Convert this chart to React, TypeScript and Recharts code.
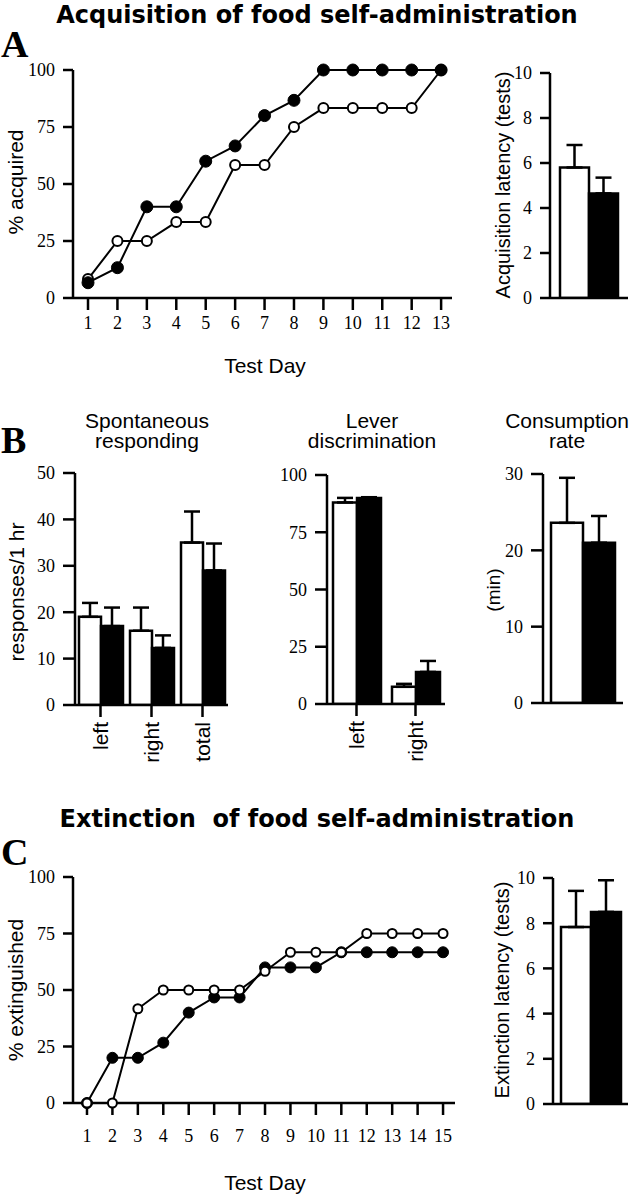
import React from 'react'
import { LineChart, Line, BarChart, Bar, XAxis, YAxis, ErrorBar, Label } from 'recharts'

const SANS = '"Liberation Sans", Arial, sans-serif'
const SERIF = '"Liberation Serif", "Times New Roman", serif'
const HEAVY = '"DejaVu Sans", sans-serif'

// A: acquisition of food self-administration
const acqDays = [1, 2, 3, 4, 5, 6, 7, 8, 9, 10, 11, 12, 13]
const acqOpen = [8.3, 25, 25, 33.3, 33.3, 58.3, 58.3, 75, 83.3, 83.3, 83.3, 83.3, 100]
const acqFilled = [6.7, 13.3, 40, 40, 60, 66.7, 80, 86.7, 100, 100, 100, 100, 100]
const acqLatency = [5.8, 4.65]
const acqLatencyErr = [1.0, 0.7]

// B: spontaneous responding / lever discrimination / consumption rate
const spontCats = ['left', 'right', 'total']
const spontWhite = [19, 16, 35]
const spontWhiteErr = [3, 5, 6.7]
const spontBlack = [17, 12.3, 29]
const spontBlackErr = [4, 2.7, 5.8]

const leverCats = ['left', 'right']
const leverWhite = [88, 7.5]
const leverWhiteErr = [2, 1.3]
const leverBlack = [90, 14]
const leverBlackErr = [0.3, 4.8]

const consWhite = [23.6]
const consWhiteErr = [5.9]
const consBlack = [21]
const consBlackErr = [3.5]

// C: extinction of food self-administration
const extDays = [1, 2, 3, 4, 5, 6, 7, 8, 9, 10, 11, 12, 13, 14, 15]
const extFilled = [0, 20, 20, 26.7, 40, 46.7, 46.7, 60, 60, 60, 66.7, 66.7, 66.7, 66.7, 66.7]
const extOpen = [0, 0, 41.7, 50, 50, 50, 50, 58.3, 66.7, 66.7, 66.7, 75, 75, 75, 75]
const extLatency = [7.83, 8.5]
const extLatencyErr = [1.6, 1.4]

const acqData = acqDays.map((d, i) => ({ day: d, open: acqOpen[i], filled: acqFilled[i] }))
const extData = extDays.map((d, i) => ({ day: d, open: extOpen[i], filled: extFilled[i] }))
const acqBar = [{ name: '', white: acqLatency[0], black: acqLatency[1], we: [0, acqLatencyErr[0]], be: [0, acqLatencyErr[1]] }]
const extBar = [{ name: '', white: extLatency[0], black: extLatency[1], we: [0, extLatencyErr[0]], be: [0, extLatencyErr[1]] }]
const spontData = spontCats.map((c, i) => ({
  name: c, white: spontWhite[i], black: spontBlack[i], we: [0, spontWhiteErr[i]], be: [0, spontBlackErr[i]],
}))
const leverData = leverCats.map((c, i) => ({
  name: c, white: leverWhite[i], black: leverBlack[i], we: [0, leverWhiteErr[i]], be: [0, leverBlackErr[i]],
}))
const consData = [{ name: '', white: consWhite[0], black: consBlack[0], we: [0, consWhiteErr[0]], be: [0, consBlackErr[0]] }]

const axisLine = { stroke: '#000', strokeWidth: 2.5 }
const serifTick = { fill: '#000', fontSize: 18, fontFamily: SERIF }

function vLabel(text: string, x: number, y: number, size: number) {
  return (
    <Label
      content={() => (
        <text x={x} y={y} transform={`rotate(-90 ${x} ${y})`} textAnchor="middle" dominantBaseline="central"
          fontFamily={SANS} fontSize={size} fill="#000">
          {text}
        </text>
      )}
    />
  )
}

const RotTick = (props: any) => {
  const { x, y, payload } = props
  return (
    <text x={x} y={y} transform={`rotate(-90 ${x} ${y})`} textAnchor="end" dominantBaseline="central"
      fontFamily={SANS} fontSize={21} fill="#000">
      {payload.value}
    </text>
  )
}

// centred text placed by the baseline of its first line
function Txt({ text, cx, base, size, font = SANS, weight = 400, lh = size }: any) {
  return (
    <div style={{
      position: 'absolute', left: cx - 300, width: 600, top: base - 0.85 * size - (lh - size) / 2, textAlign: 'center',
      fontSize: size, lineHeight: `${lh}px`, fontFamily: font, fontWeight: weight, whiteSpace: 'pre', color: '#000',
    }}>{text}</div>
  )
}

function Letter({ ch, base }: { ch: string; base: number }) {
  return (
    <div style={{
      position: 'absolute', left: 1, top: base - 0.84 * 38, fontSize: 38, lineHeight: '38px',
      fontFamily: SERIF, fontWeight: 700, color: '#000',
    }}>{ch}</div>
  )
}

function Box({ left, top, children }: any) {
  return <div style={{ position: 'absolute', left, top }}>{children}</div>
}

function bars(size: number) {
  return [
    <Bar key="w" dataKey="white" fill="#fff" stroke="#000" strokeWidth={2.5} barSize={size} isAnimationActive={false}>
      <ErrorBar dataKey="we" width={8} stroke="#000" strokeWidth={2.5} direction="y" />
    </Bar>,
    <Bar key="b" dataKey="black" fill="#000" stroke="#000" strokeWidth={2.5} barSize={size} isAnimationActive={false}>
      <ErrorBar dataKey="be" width={8} stroke="#000" strokeWidth={2.5} direction="y" />
    </Bar>,
  ]
}

export default function App() {
  return (
    <div style={{ position: 'absolute', left: 0, top: 0, width: 634, height: 1199, background: '#fff', overflow: 'hidden' }}>
      <Txt text="Acquisition of food self-administration" cx={317} base={23} size={24} font={HEAVY} weight={700} />
      <Letter ch="A" base={57} />

      <Box left={0} top={40}>
        <LineChart width={470} height={300} data={acqData} margin={{ top: 30, right: 18, left: 0, bottom: 12 }}>
          <XAxis dataKey="day" type="number" domain={[0.49, 13.37]} ticks={acqDays} interval={0} allowDataOverflow
            height={30} tickSize={12} tickMargin={6} axisLine={axisLine} tickLine={axisLine} tick={serifTick} />
          <YAxis type="number" domain={[0, 100]} ticks={[0, 25, 50, 75, 100]} width={73} interval={0}
            tickSize={10} tickMargin={8} axisLine={axisLine} tickLine={axisLine} tick={serifTick}>
            {vLabel('% acquired', 15, 142, 21)}
          </YAxis>
          <Line dataKey="open" stroke="#000" strokeWidth={2} isAnimationActive={false} activeDot={false}
            dot={{ r: 5, fill: '#fff', stroke: '#000', strokeWidth: 2 }} />
          <Line dataKey="filled" stroke="#000" strokeWidth={2} isAnimationActive={false} activeDot={false}
            dot={{ r: 6, fill: '#000', stroke: '#000', strokeWidth: 1 }} />
        </LineChart>
      </Box>

      <Box left={470} top={40}>
        <BarChart width={164} height={300} data={acqBar} barGap={0} margin={{ top: 33, right: 6, left: 0, bottom: 12 }}>
          <XAxis dataKey="name" height={30} tick={false} tickLine={false} axisLine={axisLine} />
          <YAxis type="number" domain={[0, 10]} ticks={[0, 2, 4, 6, 8, 10]} width={80} interval={0} allowDataOverflow
            tickSize={10} tickMargin={8} axisLine={axisLine} tickLine={axisLine} tick={serifTick}>
            {vLabel('Acquisition latency (tests)', 33, 145, 20)}
          </YAxis>
          {bars(29)}
        </BarChart>
      </Box>

      <Txt text="Test Day" cx={265} base={373} size={21} />

      <Letter ch="B" base={453} />
      <Txt text={'Spontaneous\nresponding'} cx={147} base={428} size={21} lh={20} />
      <Txt text={'Lever\ndiscrimination'} cx={372} base={428} size={21} lh={20} />
      <Txt text={'Consumption\nrate'} cx={567} base={428} size={21} lh={20} />

      <Box left={0} top={460}>
        <BarChart width={235} height={320} data={spontData} barGap={0} margin={{ top: 13, right: 7, left: 0, bottom: 5 }}>
          <XAxis dataKey="name" height={70} interval={0} tickSize={12} tickMargin={5} axisLine={axisLine}
            tickLine={axisLine} tick={<RotTick />} />
          <YAxis type="number" domain={[0, 50]} ticks={[0, 10, 20, 30, 40, 50]} width={75} interval={0} allowDataOverflow
            tickSize={12} tickMargin={8} axisLine={axisLine} tickLine={axisLine} tick={serifTick}>
            {vLabel('responses/1 hr', 16, 132, 21)}
          </YAxis>
          {bars(22)}
        </BarChart>
      </Box>

      <Box left={235} top={460}>
        <BarChart width={215} height={320} data={leverData} barGap={0} margin={{ top: 15, right: 5, left: 0, bottom: 6 }}>
          <XAxis dataKey="name" height={70} interval={0} tickSize={12} tickMargin={5} axisLine={axisLine}
            tickLine={axisLine} tick={<RotTick />} />
          <YAxis type="number" domain={[0, 100]} ticks={[0, 25, 50, 75, 100]} width={92} interval={0} allowDataOverflow
            tickSize={12} tickMargin={8} axisLine={axisLine} tickLine={axisLine} tick={serifTick} />
          {bars(24)}
        </BarChart>
      </Box>

      <Box left={450} top={460}>
        <BarChart width={184} height={320} data={consData} barGap={0} margin={{ top: 14, right: 11, left: 0, bottom: 7 }}>
          <XAxis dataKey="name" height={70} tick={false} tickLine={false} axisLine={axisLine} />
          <YAxis type="number" domain={[0, 30]} ticks={[0, 10, 20, 30]} width={93} interval={0} allowDataOverflow
            tickSize={12} tickMargin={8} axisLine={axisLine} tickLine={axisLine} tick={serifTick}>
            {vLabel('(min)', 43, 130, 19)}
          </YAxis>
          {bars(32)}
        </BarChart>
      </Box>

      <Txt text="Extinction  of food self-administration" cx={317} base={827} size={24} font={HEAVY} weight={700} />
      <Letter ch="C" base={865} />

      <Box left={0} top={840}>
        <LineChart width={470} height={359} data={extData} margin={{ top: 37, right: 15, left: 0, bottom: 56 }}>
          <XAxis dataKey="day" type="number" domain={[0.45, 15.47]} ticks={extDays} interval={0} allowDataOverflow
            height={40} tickSize={12} tickMargin={14} axisLine={axisLine} tickLine={axisLine} tick={serifTick} />
          <YAxis type="number" domain={[0, 100]} ticks={[0, 25, 50, 75, 100]} width={73} interval={0}
            tickSize={10} tickMargin={8} axisLine={axisLine} tickLine={axisLine} tick={serifTick}>
            {vLabel('% extinguished', 15, 150, 21)}
          </YAxis>
          <Line dataKey="filled" stroke="#000" strokeWidth={2} isAnimationActive={false} activeDot={false}
            dot={{ r: 5.5, fill: '#000', stroke: '#000', strokeWidth: 1 }} />
          <Line dataKey="open" stroke="#000" strokeWidth={2} isAnimationActive={false} activeDot={false}
            dot={{ r: 4.5, fill: '#fff', stroke: '#000', strokeWidth: 2 }} />
        </LineChart>
      </Box>

      <Box left={470} top={840}>
        <BarChart width={164} height={300} data={extBar} barGap={0} margin={{ top: 38, right: 6, left: 0, bottom: 6 }}>
          <XAxis dataKey="name" height={30} tick={false} tickLine={false} axisLine={axisLine} />
          <YAxis type="number" domain={[0, 10]} ticks={[0, 2, 4, 6, 8, 10]} width={83} interval={0} allowDataOverflow
            tickSize={10} tickMargin={8} axisLine={axisLine} tickLine={axisLine} tick={serifTick}>
            {vLabel('Extinction latency (tests)', 32, 150, 20)}
          </YAxis>
          {bars(30)}
        </BarChart>
      </Box>

      <Txt text="Test Day" cx={265} base={1190} size={21} />
    </div>
  )
}
